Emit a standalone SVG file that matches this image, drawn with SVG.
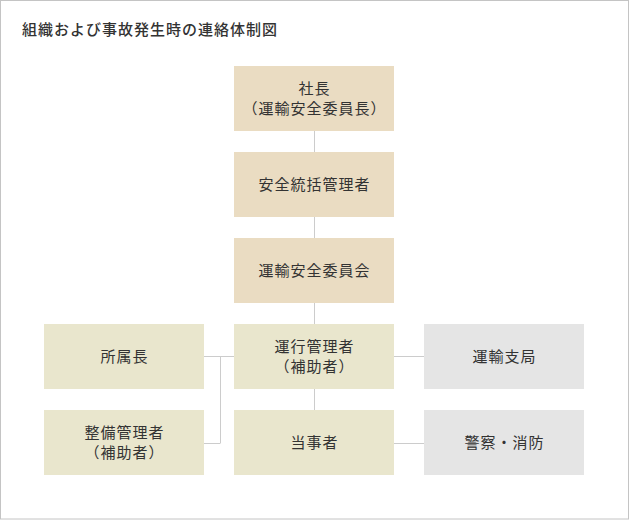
<svg xmlns="http://www.w3.org/2000/svg" width="630" height="520" viewBox="0 0 630 520">
<style>
text{font-family:"Noto Sans CJK JP","Noto Sans CJK SC",sans-serif;font-size:15px;letter-spacing:1px;fill:#333;text-anchor:middle}
.tan{fill:#eadcc2}
.yel{fill:#e9e6cd}
.gry{fill:#e5e5e5}
.ln{stroke:#cccccc;stroke-width:1;fill:none}
</style>
<rect x="0.5" y="0.5" width="628" height="518.5" fill="#fff" stroke="#c4c4c4" stroke-width="1"/>
<text x="22" y="35" style="text-anchor:start;font-weight:500">組織および事故発生時の連絡体制図</text>
<g id="connectors" class="ln">
<path d="M314.5 131V152M314.5 217V238M314.5 303V324M314.5 389V410"/>
<path d="M204 356.5H234M220.5 356V443M204 443.5H220.5"/>
<path d="M394 356.5H424M394 443.5H424"/>
</g>
<g id="n1"><rect class="tan" x="234" y="66" width="160" height="65"/><text x="314.5" y="94">社長</text><text x="314.5" y="114">（運輸安全委員長）</text></g>
<g id="n2"><rect class="tan" x="234" y="152" width="160" height="65"/><text x="314.5" y="190">安全統括管理者</text></g>
<g id="n3"><rect class="tan" x="234" y="238" width="160" height="65"/><text x="314.5" y="276">運輸安全委員会</text></g>
<g id="n4"><rect class="yel" x="234" y="324" width="160" height="65"/><text x="314.5" y="352">運行管理者</text><text x="314.5" y="372">（補助者）</text></g>
<g id="n5"><rect class="yel" x="234" y="410" width="160" height="65"/><text x="314.5" y="448">当事者</text></g>
<g id="n6"><rect class="yel" x="44" y="324" width="160" height="65"/><text x="124.5" y="362">所属長</text></g>
<g id="n7"><rect class="yel" x="44" y="410" width="160" height="65"/><text x="124.5" y="438">整備管理者</text><text x="124.5" y="458">（補助者）</text></g>
<g id="n8"><rect class="gry" x="424" y="324" width="160" height="65"/><text x="504.5" y="362">運輸支局</text></g>
<g id="n9"><rect class="gry" x="424" y="410" width="160" height="65"/><text x="504.5" y="448">警察・消防</text></g>
</svg>
